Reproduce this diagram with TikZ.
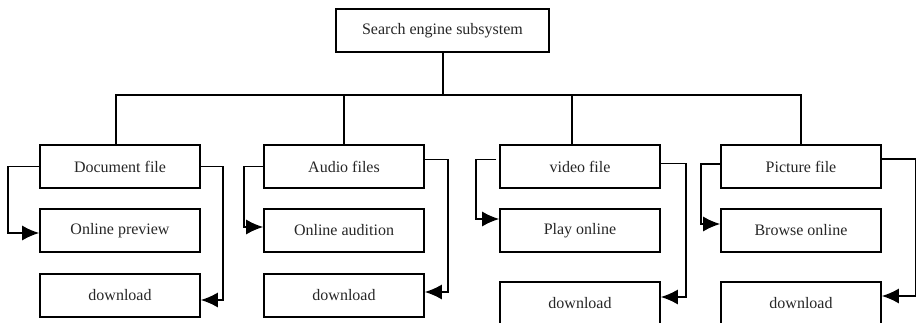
\documentclass[tikz,border=0pt]{standalone}
\usepackage{fontspec}
\setmainfont{Liberation Serif}
\usetikzlibrary{arrows.meta,calc}
\begin{document}
\begin{tikzpicture}[x=1pt,y=-1pt,
  box/.style={draw,line width=1.6pt,minimum width=160pt,minimum height=43pt,
    inner sep=0pt,font=\fontsize{16}{19}\selectfont,text=black!85},
  link/.style={line width=1.6pt},
  arr/.style={line width=1.6pt,-{Latex[length=17pt,width=15pt]}}]
\useasboundingbox (0,0) rectangle (916,322);
\clip (0,0) rectangle (916,322);

% root
\node[box,minimum width=213pt] (root) at (442.5,30.5) {Search engine subsystem};

% category row
\node[box] (doc) at (120,166.5) {Document file};
\node[box] (aud) at (344,166.5) {Audio files};
\node[box] (vid) at (580,166.5) {video file};
\node[box] (pic) at (801,166.5) {Picture file};

% online actions
\node[box] (prev) at (120,230.5) {Online preview};
\node[box] (audi) at (344,230.5) {Online audition};
\node[box] (play) at (580,230.5) {Play online};
\node[box] (brow) at (801,230.5) {Browse online};

% downloads
\node[box] (dl1) at (120,295.5) {download};
\node[box] (dl2) at (344,295.5) {download};
\node[box] (dl3) at (580,303.5) {download};
\node[box] (dl4) at (801,303.5) {download};

% tree bus
\coordinate (bus) at (443,95);
\coordinate (b1) at (116,95);
\coordinate (b2) at (344,95);
\coordinate (b3) at (572,95);
\coordinate (b4) at (801,95);
\draw[link] (root.south -| bus) -- (bus);
\draw[link,line cap=rect] (b1) -- (b4);
\draw[link] (b1) -- (b1 |- doc.north);
\draw[link] (b2) -- (b2 |- aud.north);
\draw[link] (b3) -- (b3 |- vid.north);
\draw[link] (b4) -- (b4 |- pic.north);

% document file
\draw[arr] (doc.west) -- ++(-31,0) |- ([yshift=-2.5pt]prev.west);
\draw[arr] (doc.east) -- ++(22,0) |- ([yshift=-4.5pt]dl1.east);

% audio files
\draw[arr] (aud.west) -- ++(-19,0) |- ([yshift=3.5pt]audi.west);
\draw[arr] ([yshift=7pt]aud.east) -- ++(23,0) |- ([yshift=3.5pt]dl2.east);

% video file
\draw[arr] ([xshift=-3pt,yshift=7pt]vid.west) -- ++(-20,0) |- ([yshift=11.5pt]play.west);
\draw[arr] ([yshift=3pt]vid.east) -- ++(25,0) |- ([yshift=6.5pt]dl3.east);

% picture file
\draw[arr] ([yshift=2.5pt]pic.west) -- ++(-19,0) |- ([yshift=6.5pt]brow.west);
\draw[arr] ([yshift=7.5pt]pic.east) -- ++(34,0) |- ([yshift=7.5pt]dl4.east);
\end{tikzpicture}
\end{document}
